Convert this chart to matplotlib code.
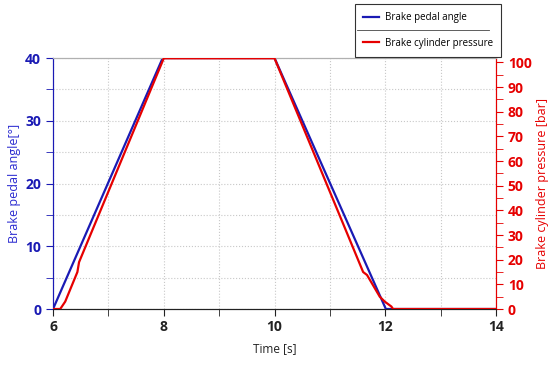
import matplotlib.pyplot as plt
from matplotlib.lines import Line2D
from matplotlib.ticker import MultipleLocator

plt.rcParams['font.family'] = ['Open Sans', 'DejaVu Sans']

# brake pedal angle [deg]
pedal_time = [6.0, 7.98, 10.0, 12.01, 14.0]
pedal_angle = [0.0, 40.0, 40.0, 0.0, 0.0]

# brake cylinder pressure [bar]
pressure_time = [6.0, 6.13, 6.22, 6.44, 6.47, 8.0, 10.0, 11.6, 11.67, 11.9, 11.99, 12.11, 12.14, 14.0]
pressure_bar = [0.0, 0.0, 3.0, 15.0, 19.0, 101.7, 101.7, 15.0, 13.8, 5.0, 3.0, 1.0, 0.0, 0.0]

blue = '#1a1ab4'
red = '#e60000'

fig = plt.figure(figsize=(5.5, 3.65), dpi=100)
ax = fig.add_axes([0.0964, 0.1534, 0.8055, 0.6876])
ax2 = ax.twinx()

ax.plot(pedal_time, pedal_angle, color=blue, lw=1.6, zorder=3)
ax2.plot(pressure_time, pressure_bar, color=red, lw=1.6, zorder=3)

ax.set_xlim(6, 14)
ax.set_ylim(0, 40)
ax2.set_ylim(0, 101.8)

ax.xaxis.set_major_locator(MultipleLocator(2))
ax.xaxis.set_minor_locator(MultipleLocator(1))
ax.yaxis.set_major_locator(MultipleLocator(10))
ax.yaxis.set_minor_locator(MultipleLocator(5))
ax2.yaxis.set_major_locator(MultipleLocator(10))
ax2.yaxis.set_minor_locator(MultipleLocator(5))

ax.grid(True, which='both', color='#c8c8c8', linestyle=':', linewidth=0.8)
ax.set_axisbelow(True)

for a in (ax, ax2):
    a.spines['top'].set_color('#b0b0b0')
    a.spines['bottom'].set_color('#222222')
    a.spines['left'].set_color(blue)
    a.spines['right'].set_color(red)

ax.tick_params(axis='x', which='both', colors='#222222', labelsize=10, pad=3, length=5)
ax.tick_params(axis='y', which='both', colors=blue, labelsize=10, length=5)
ax2.tick_params(axis='y', which='both', colors=red, labelsize=10, length=5)
for lab in ax.get_xticklabels() + ax.get_yticklabels() + ax2.get_yticklabels():
    lab.set_fontweight('bold')

ax.set_xlabel('Time [s]', fontsize=8.5, color='#222222', labelpad=6)
ax.set_ylabel('Brake pedal angle[°]', fontsize=9, color='#2a2ad0', labelpad=3)
ax2.set_ylabel('Brake cylinder pressure [bar]', fontsize=9, color=red, labelpad=3)

handles = [Line2D([], [], color=blue, lw=1.6), Line2D([], [], color=red, lw=1.6)]
leg = fig.legend(handles, ['Brake pedal angle', 'Brake cylinder pressure'],
                 loc='upper left', bbox_to_anchor=(355 / 550, 1 - 4 / 365),
                 fontsize=7.0, frameon=True, fancybox=False, handlelength=1.6,
                 labelspacing=1.5, borderpad=0.85, handletextpad=0.6,
                 borderaxespad=0)
leg.get_frame().set_edgecolor('black')
leg.get_frame().set_linewidth(0.8)
sep = Line2D([357 / 550, 489 / 550], [1 - 30 / 365, 1 - 30 / 365],
             color='#444444', lw=0.6, zorder=10)
fig.add_artist(sep)

fig.savefig('out.png', dpi=100)
